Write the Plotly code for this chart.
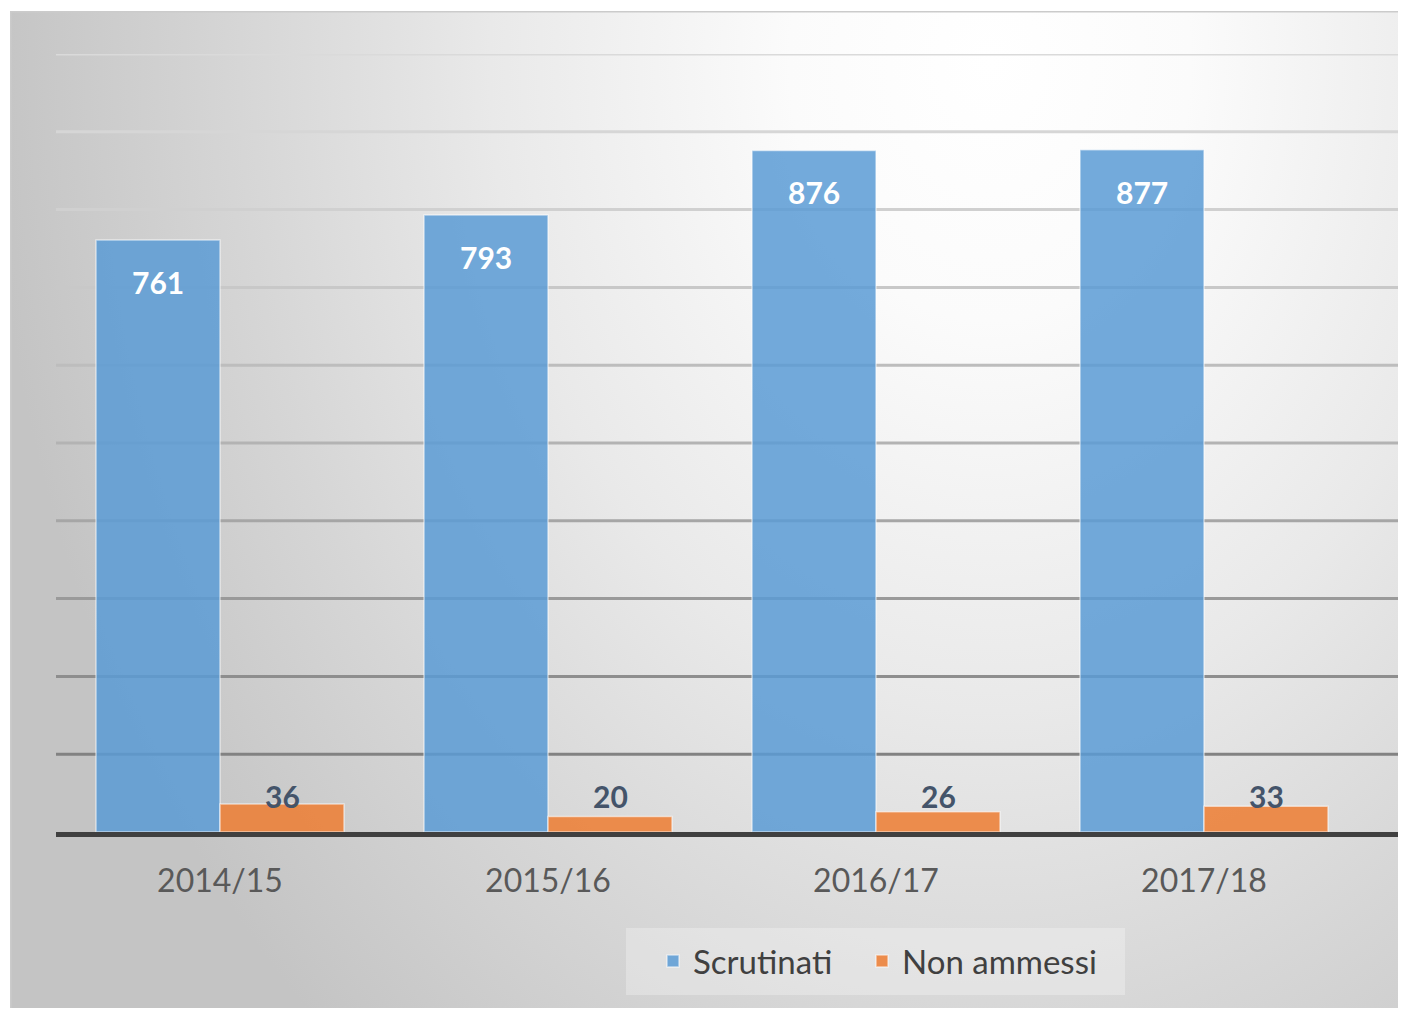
import base64
import plotly.graph_objects as go

# ---- data ----
categories = ["2014/15", "2015/16", "2016/17", "2017/18"]
scrutinati = [761, 793, 876, 877]
non_ammessi = [36, 20, 26, 33]
grid_values = [100, 200, 300, 400, 500, 600, 700, 800, 900, 1000]
grid_colors = ["#828282", "#8e8e8e", "#9a9a9a", "#a6a6a6", "#b3b3b3",
               "#bdbdbd", "#c8c8c8", "#d0d0d0", "#d6d6d6", "#dadada"]

# ---- layout geometry (figure pixels; page adds an 8px body margin) ----
OFF = 8
W, H = 1398, 1000
L, T = 56 - OFF, 54 - OFF
R = 0
B = H - (832 - OFF)
PW, PH = W - L - R, H - T - B
BAR_W = 124 / 328


def px_to_paper_x(px):
    """reference-image px -> paper x"""
    return (px - OFF - L) / PW


def px_to_paper_y(py):
    return (H - B - (py - OFF)) / PH


# background gradient as SVG
svg = f"""<svg xmlns='http://www.w3.org/2000/svg' width='1400' height='1010' viewBox='0 0 1400 1010'>
<defs>
<radialGradient id='g' gradientUnits='userSpaceOnUse' cx='980' cy='50' r='1000'
 gradientTransform='translate(980 50) scale(1 1.3) translate(-980 -50)'>
<stop offset='0' stop-color='#ffffff'/>
<stop offset='0.2' stop-color='#fbfbfb'/>
<stop offset='0.5' stop-color='#e9e9e9'/>
<stop offset='0.75' stop-color='#d6d6d6'/>
<stop offset='1' stop-color='#c4c4c4'/>
</radialGradient>
</defs>
<rect x='0' y='0' width='1400' height='1010' fill='url(#g)'/>
<rect x='0.75' y='0.75' width='1410' height='1020' fill='none' stroke='#cbcbcb' stroke-width='1.5'/>
</svg>"""
svg_uri = "data:image/svg+xml;base64," + base64.b64encode(svg.encode()).decode()

xs = list(range(len(categories)))

fig = go.Figure()
fig.add_trace(go.Bar(
    name="Scrutinati", x=xs, y=scrutinati, width=BAR_W, offset=-BAR_W,
    marker=dict(color="rgba(91,155,213,0.85)",
                line=dict(color="rgba(255,255,255,0.55)", width=1.5)),
    hoverinfo="y", legend="legend",
))
fig.add_trace(go.Bar(
    name="Non ammessi", x=xs, y=non_ammessi, width=BAR_W, offset=0,
    marker=dict(color="rgba(237,125,49,0.85)",
                line=dict(color="rgba(255,255,255,0.55)", width=1.5)),
    hoverinfo="y", legend="legend2",
))

annotations = []
for i, v in enumerate(scrutinati):
    annotations.append(dict(
        x=i - BAR_W / 2, y=v, xref="x", yref="y", text=f"<b>{v}</b>",
        showarrow=False, yanchor="top", yshift=-22,
        font=dict(family="Lato", size=30, color="white"),
    ))
label_y = max(non_ammessi)
for i, v in enumerate(non_ammessi):
    annotations.append(dict(
        x=i + BAR_W / 2, y=label_y, xref="x", yref="y", text=f"<b>{v}</b>",
        showarrow=False, yanchor="bottom", yshift=-12,
        font=dict(family="Lato", size=30, color="#44546a"),
    ))

shapes = []
for gv, gc in zip(grid_values, grid_colors):
    shapes.append(dict(type="line", xref="paper", yref="y", x0=0, x1=1,
                       y0=gv, y1=gv, line=dict(color=gc, width=3), layer="below"))
# legend box
shapes.append(dict(type="rect", xref="paper", yref="paper",
                   x0=px_to_paper_x(626), x1=px_to_paper_x(1125),
                   y0=px_to_paper_y(995), y1=px_to_paper_y(928),
                   fillcolor="rgba(255,255,255,0.28)", line=dict(width=0),
                   layer="below"))

legend_font = dict(family="Lato", size=33, color="#404040")

fig.update_layout(
    width=W, height=H,
    margin=dict(l=L, r=R, t=T, b=B, pad=0),
    paper_bgcolor="white",
    plot_bgcolor="rgba(0,0,0,0)",
    barmode="overlay",
    showlegend=True,
    legend=dict(orientation="h", x=px_to_paper_x(653), xanchor="left",
                y=px_to_paper_y(961), yanchor="middle",
                font=legend_font, bgcolor="rgba(0,0,0,0)"),
    legend2=dict(orientation="h", x=px_to_paper_x(862), xanchor="left",
                 y=px_to_paper_y(961), yanchor="middle",
                 font=legend_font, bgcolor="rgba(0,0,0,0)"),
    images=[dict(source=svg_uri, xref="paper", yref="paper",
                 x=px_to_paper_x(10), y=px_to_paper_y(11),
                 sizex=1400 / PW, sizey=1010 / PH,
                 xanchor="left", yanchor="top", sizing="stretch", layer="below")],
    shapes=shapes,
    annotations=annotations,
    xaxis=dict(
        range=[-0.5, -0.5 + PW / 328], tickmode="array", tickvals=xs,
        ticktext=categories, showgrid=False, zeroline=False,
        showline=True, linecolor="#404040", linewidth=5,
        ticks="", ticklabelstandoff=17,
        tickfont=dict(family="Lato", size=32, color="#595959"),
        fixedrange=True,
    ),
    yaxis=dict(range=[0, 1000], showgrid=False, zeroline=False,
               showticklabels=False, showline=False, fixedrange=True),
)

fig.write_html("out.html")
